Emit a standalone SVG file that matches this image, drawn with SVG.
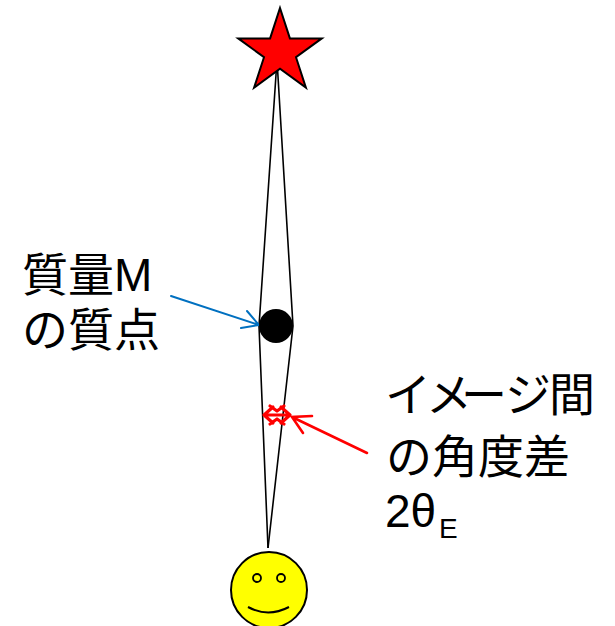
<svg xmlns="http://www.w3.org/2000/svg" width="615" height="626" viewBox="0 0 615 626">
  <defs>
    <style>
      .lbl { font-family: "Liberation Sans", "Noto Sans CJK JP", sans-serif; font-size: 46px; fill: #000; }
      .ray { fill: none; stroke: #000; stroke-width: 1.6; }
      .red { fill: none; stroke: #FF0000; stroke-width: 2.6; stroke-linecap: round; }
      .mark { fill: none; stroke: #FF0000; stroke-width: 3.2; stroke-linecap: round; stroke-linejoin: round; }
      .blue { fill: none; stroke: #0070C0; stroke-width: 2; stroke-linecap: round; }
    </style>
  </defs>
  <rect width="615" height="626" fill="#fff"/>

  <!-- light paths bent around the mass -->
  <g id="connectors">
    <polyline class="ray" points="277,60 259,326 268,548"/>
    <polyline class="ray" points="277,60 293,326 268,548"/>
    <!-- pointer to the mass -->
    <path class="blue" d="M171,296 L259,325 M247,311 L259,325 L241,328"/>
    <!-- pointer to the angle marker -->
    <path class="red" d="M367,453 L292,417 M312,416 L292,417 L303,433"/>
  </g>

  <!-- source: star -->
  <g id="star">
    <polygon points="280,8 289.9,38.4 321.8,38.4 296,57.2 305.9,87.6 280,68.8 254.1,87.6 264,57.2 238.2,38.4 270.1,38.4" fill="#FF0000" stroke="#000" stroke-width="2" stroke-linejoin="miter"/>
  </g>

  <!-- point mass -->
  <g id="mass">
    <circle cx="276" cy="326" r="17" fill="#000"/>
  </g>

  <!-- angular separation marker -->
  <g id="angle-marker">
    <path class="mark" d="M264,415 L290,415 M273,407 L264,415 L273,423 M281,407 L290,415 L281,423 M270,406 L277,411 L284,406 M270,424 L277,419 L284,424"/>
  </g>

  <!-- observer: smiley -->
  <g id="observer">
    <circle cx="269" cy="590" r="38" fill="#FFFF00" stroke="#000" stroke-width="2"/>
    <circle cx="257" cy="578" r="4" fill="#FFFF00" stroke="#000" stroke-width="1.8"/>
    <circle cx="281" cy="578" r="4" fill="#FFFF00" stroke="#000" stroke-width="1.8"/>
    <path d="M248,607 Q268,618 289,607" fill="none" stroke="#000" stroke-width="2"/>
  </g>

  <!-- labels -->
  <g id="label-mass">
    <text class="lbl" x="22" y="291">質量M</text>
    <text class="lbl" x="22" y="346">の質点</text>
  </g>
  <g id="label-angle">
    <text class="lbl" x="385 426 461 505 549" y="411">イメージ間</text>
    <text class="lbl" x="386" y="473">の角度差</text>
    <text class="lbl" x="385" y="527">2θ<tspan x="439" font-size="28px" dy="11">E</tspan></text>
  </g>
</svg>
